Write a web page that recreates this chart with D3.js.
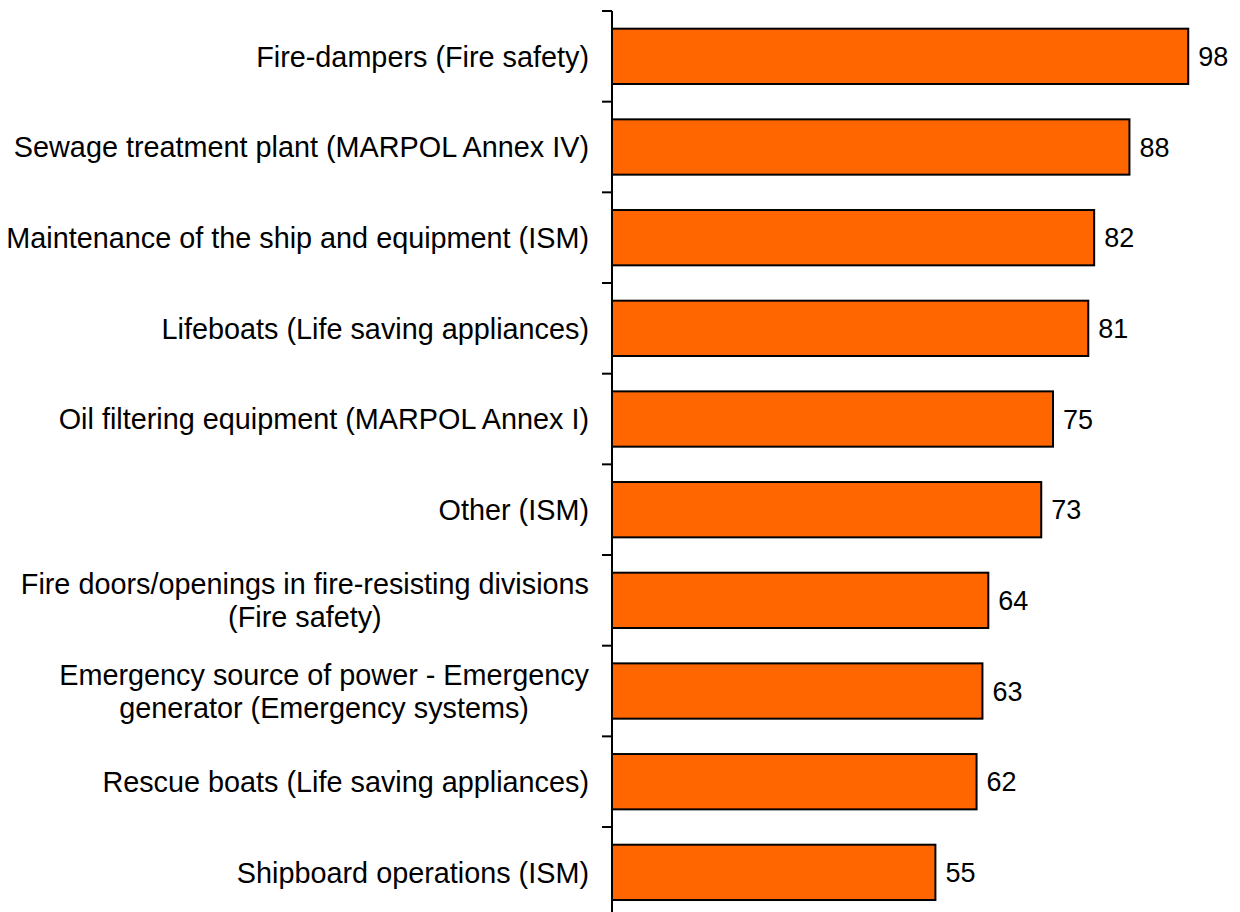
<!DOCTYPE html>
<html>
<head>
<meta charset="utf-8">
<script src="https://cdn.jsdelivr.net/npm/d3@7"></script>
<style>
  body { margin: 0; background: #fff; }
  text { font-family: "Liberation Sans", Arial, sans-serif; }
</style>
</head>
<body>
<div id="chart"></div>
<script>
const categories = [
  ["Fire-dampers (Fire safety)"],
  ["Sewage treatment plant (MARPOL Annex IV)"],
  ["Maintenance of the ship and equipment (ISM)"],
  ["Lifeboats (Life saving appliances)"],
  ["Oil filtering equipment (MARPOL Annex I)"],
  ["Other (ISM)"],
  ["Fire doors/openings in fire-resisting divisions", "(Fire safety)"],
  ["Emergency source of power - Emergency", "generator (Emergency systems)"],
  ["Rescue boats (Life saving appliances)"],
  ["Shipboard operations (ISM)"]
];
const values = [98, 88, 82, 81, 75, 73, 64, 63, 62, 55];

const width = 1240, height = 912;
const axisX = 612;
const plotTop = 11;
const bandStep = 90.67;

const svg = d3.select("#chart").append("svg")
  .attr("width", width).attr("height", height);

// y bands, one per category
const y = d3.scaleBand()
  .domain(d3.range(categories.length))
  .range([plotTop, plotTop + bandStep * categories.length])
  .paddingInner(0.39)
  .paddingOuter(0.195);

const x = d3.scaleLinear().domain([0, 100]).range([axisX, 1200]);

// bars
svg.selectAll("rect.bar")
  .data(values)
  .enter()
  .append("rect")
  .attr("class", "bar")
  .attr("x", x(0))
  .attr("y", (d, i) => y(i))
  .attr("width", d => x(d) - x(0))
  .attr("height", y.bandwidth())
  .attr("fill", "#FF6600")
  .attr("stroke", "#000")
  .attr("stroke-width", 2);

// value labels
svg.selectAll("text.val")
  .data(values)
  .enter()
  .append("text")
  .attr("class", "val")
  .attr("x", d => x(d) + 10)
  .attr("y", (d, i) => y(i) + y.bandwidth() / 2)
  .attr("dy", "0.36em")
  .attr("font-size", "27px")
  .attr("fill", "#000")
  .text(d => d);

// axis with ticks at band boundaries
const edges = d3.range(categories.length + 1).map(i => plotTop + i * bandStep);
svg.append("line")
  .attr("x1", axisX).attr("x2", axisX)
  .attr("y1", plotTop).attr("y2", height)
  .attr("stroke", "#000").attr("stroke-width", 2);
svg.selectAll("line.tick")
  .data(edges)
  .enter()
  .append("line")
  .attr("class", "tick")
  .attr("x1", axisX - 10).attr("x2", axisX)
  .attr("y1", d => d).attr("y2", d => d)
  .attr("stroke", "#000").attr("stroke-width", 2);

// category labels (multi-line ones are centred as a block)
const labelRight = 589;
const lineH = 33;
categories.forEach((lines, i) => {
  const cy = y(i) + y.bandwidth() / 2;
  const g = svg.append("g");
  const texts = lines.map((ln, j) => g.append("text")
    .attr("font-size", "28.8px")
    .attr("fill", "#000")
    .attr("y", cy + (j - (lines.length - 1) / 2) * lineH)
    .attr("dy", "0.36em")
    .text(ln));
  const maxW = d3.max(texts, t => t.node().getComputedTextLength());
  const cx = labelRight - maxW / 2;
  texts.forEach(t => t.attr("x", cx).attr("text-anchor", "middle"));
});
</script>
</body>
</html>
